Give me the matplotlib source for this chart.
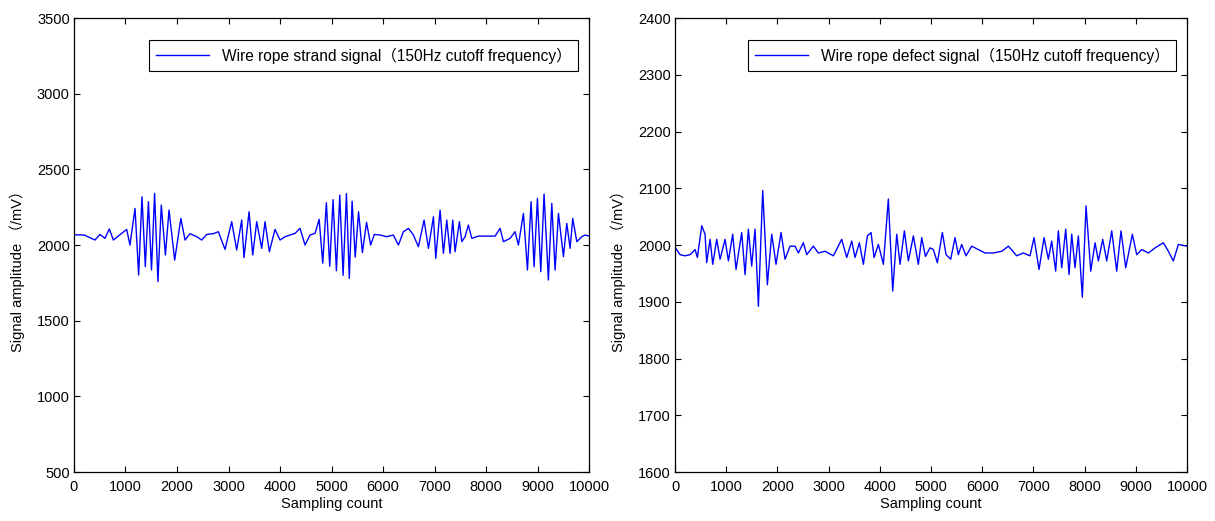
import matplotlib
matplotlib.use("Agg")
import matplotlib.pyplot as plt

plt.rcParams['font.family'] = ['Liberation Sans', 'Noto Sans CJK SC']
plt.rcParams['font.size'] = 10.5

# strand signal (sample index, mV)
strand_x = [0, 200, 408, 505, 602, 686, 764, 926, 1023, 1087,
            1185, 1255, 1320, 1385, 1445, 1505, 1565, 1630, 1695, 1775,
            1845, 1955, 2075, 2156, 2253, 2382, 2480, 2577, 2706, 2803,
            2932, 3062, 3159, 3256, 3301, 3399, 3470, 3548, 3645, 3709,
            3793, 3903, 4001, 4098, 4195, 4292, 4389, 4486, 4583, 4680,
            4760, 4830, 4900, 4965, 5030, 5095, 5160, 5225, 5290, 5345,
            5400, 5460, 5525, 5600, 5680, 5760, 5830, 5943, 6072, 6201,
            6299, 6396, 6493, 6590, 6687, 6797, 6882, 6979, 7024, 7108,
            7173, 7238, 7302, 7354, 7399, 7483, 7529, 7593, 7658, 7723,
            7852, 8014, 8176, 8273, 8338, 8467, 8564, 8629, 8726, 8804,
            8875, 8933, 8998, 9063, 9127, 9211, 9277, 9341, 9406, 9503,
            9568, 9632, 9684, 9762, 9859, 9924, 10000]
strand_y = [2068, 2066, 2033, 2070, 2044, 2106, 2033, 2077, 2103, 2000,
            2242, 1802, 2319, 1857, 2286, 1835, 2341, 1758, 2264, 1934,
            2231, 1901, 2176, 2033, 2075, 2055, 2033, 2070, 2075, 2088,
            1971, 2154, 1967, 2165, 1917, 2220, 1934, 2154, 1978, 2154,
            1956, 2103, 2033, 2055, 2066, 2077, 2110, 2000, 2066, 2077,
            2170, 1880, 2280, 1860, 2300, 1830, 2330, 1800, 2340, 1780,
            2290, 1920, 2220, 1950, 2150, 2000, 2070, 2066, 2055, 2066,
            2000, 2088, 2110, 2066, 1989, 2165, 1978, 2187, 1912, 2231,
            1945, 2165, 1945, 2165, 1956, 2154, 2022, 2055, 2132, 2044,
            2059, 2059, 2059, 2110, 2022, 2044, 2088, 2000, 2209, 1835,
            2286, 1857, 2308, 1824, 2337, 1769, 2275, 1835, 2209, 1923,
            2143, 1978, 2176, 2022, 2055, 2066, 2060]

# defect signal
defect_x = [0, 98, 195, 293, 391, 436, 521, 586, 618, 684,
            736, 814, 879, 977, 1042, 1126, 1191, 1302, 1367, 1432,
            1497, 1562, 1628, 1712, 1803, 1888, 1972, 2070, 2148, 2246,
            2344, 2409, 2506, 2572, 2701, 2799, 2930, 3092, 3255, 3353,
            3451, 3515, 3600, 3678, 3756, 3828, 3887, 3971, 4069, 4166,
            4251, 4330, 4394, 4479, 4557, 4655, 4752, 4818, 4890, 4980,
            5045, 5123, 5221, 5293, 5384, 5468, 5533, 5598, 5683, 5794,
            5924, 6054, 6217, 6380, 6510, 6673, 6803, 6933, 7011, 7109,
            7207, 7291, 7356, 7434, 7486, 7552, 7630, 7695, 7747, 7812,
            7877, 7955, 8027, 8119, 8203, 8268, 8353, 8431, 8529, 8626,
            8710, 8802, 8932, 9017, 9115, 9245, 9375, 9537, 9635, 9732,
            9830, 10000]
defect_y = [1996, 1983, 1981, 1983, 1992, 1978, 2034, 2019, 1969, 2010,
            1966, 2010, 1975, 2010, 1972, 2019, 1957, 2022, 1948, 2028,
            1963, 2028, 1892, 2096, 1930, 2019, 1966, 2022, 1975, 1998,
            1998, 1986, 2004, 1983, 1998, 1986, 1989, 1981, 2010, 1978,
            2007, 1978, 2004, 1966, 2016, 2022, 1978, 2001, 1966, 2081,
            1919, 2019, 1966, 2025, 1972, 2016, 1966, 2013, 1980, 1995,
            1992, 1969, 2022, 1983, 1975, 2013, 1983, 2001, 1981, 1998,
            1992, 1986, 1986, 1989, 1998, 1981, 1986, 1981, 2013, 1957,
            2013, 1975, 2007, 1954, 2025, 1960, 2028, 1948, 2019, 1960,
            2016, 1908, 2069, 1954, 2004, 1972, 2010, 1972, 2025, 1954,
            2025, 1960, 2019, 1983, 1992, 1986, 1995, 2004, 1989, 1972,
            2001, 1998]

xticks = list(range(0, 10001, 1000))
left_yticks = list(range(500, 3501, 500))
right_yticks = list(range(1600, 2401, 100))

fig = plt.figure(figsize=(12.15, 5.21), dpi=100)
ax1 = fig.add_axes([0.0609, 0.094, 0.4239, 0.8714])
ax2 = fig.add_axes([0.5556, 0.094, 0.4214, 0.8714])

panels = [
    (ax1, strand_x, strand_y, left_yticks, 'Wire rope strand signal（150Hz cutoff frequency）'),
    (ax2, defect_x, defect_y, right_yticks, 'Wire rope defect signal（150Hz cutoff frequency）'),
]

for ax, xs, ys, yt, lab in panels:
    ax.plot(xs, ys, '-', color='#0000ff', lw=1.0, label=lab)
    ax.set_xlim(0, 10000)
    ax.set_ylim(yt[0], yt[-1])
    ax.set_xticks(xticks)
    ax.set_yticks(yt)
    ax.tick_params(direction='in', top=True, right=True, length=4, width=0.8)
    ax.tick_params(axis='x', pad=6)
    ax.tick_params(axis='y', pad=3)
    for s in ax.spines.values():
        s.set_linewidth(0.9)
    ax.set_xlabel('Sampling count', labelpad=2)
    ax.set_ylabel('Signal amplitude （/mV）')
    ax.yaxis.set_label_coords(-0.095, 0.45)
    ax.legend(loc='upper right', bbox_to_anchor=(0.979, 0.951), borderaxespad=0,
              fancybox=False, edgecolor='black', framealpha=1, handlelength=3.4,
              borderpad=0.45, fontsize=11.2)
    ax.get_legend().get_frame().set_linewidth(0.8)

fig.savefig('out.png', dpi=100)
